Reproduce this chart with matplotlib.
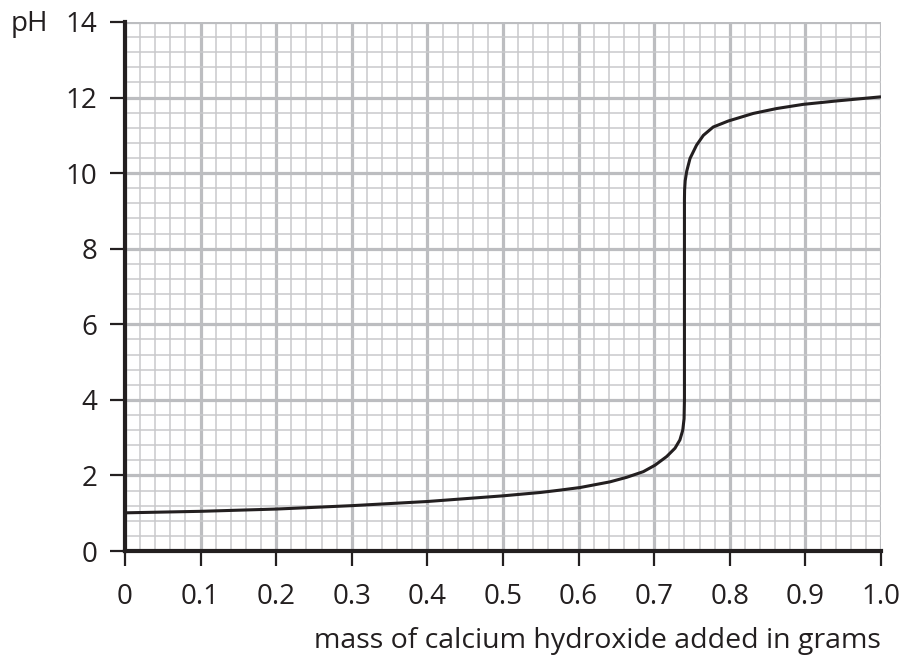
import matplotlib
matplotlib.use("Agg")
import matplotlib.pyplot as plt
import numpy as np

# Data
mass = [0.0, 0.1, 0.2, 0.3, 0.4, 0.5, 0.55, 0.575, 0.602, 0.6415, 0.6636, 0.6856, 0.701, 0.7165, 0.7275,
        0.734, 0.7378, 0.7395, 0.7400, 0.7400, 0.7402, 0.7410, 0.7430, 0.7474, 0.756, 0.765, 0.778, 0.798,
        0.831, 0.862, 0.897, 0.941, 1.0]
ph = [1.01, 1.05, 1.11, 1.20, 1.31, 1.46, 1.55, 1.61, 1.68, 1.83, 1.95, 2.10, 2.27, 2.50, 2.72,
      2.94, 3.20, 3.50, 4.0, 9.3, 9.55, 9.80, 10.05, 10.39, 10.74, 11.0, 11.22, 11.38,
      11.58, 11.71, 11.82, 11.91, 12.02]
x_ticks = [0, 0.1, 0.2, 0.3, 0.4, 0.5, 0.6, 0.7, 0.8, 0.9, 1.0]
x_labels = ["0", "0.1", "0.2", "0.3", "0.4", "0.5", "0.6", "0.7", "0.8", "0.9", "1.0"]
y_ticks = [0, 2, 4, 6, 8, 10, 12, 14]
y_labels = ["0", "2", "4", "6", "8", "10", "12", "14"]

plt.rcParams['font.family'] = ['Open Sans', 'DejaVu Sans']

fig = plt.figure(figsize=(9.02, 6.57), dpi=100)
ax = fig.add_axes([125/902, 1-551/657, (881-125)/902, (551-22)/657])

ax.set_xlim(0, 1.0)
ax.set_ylim(0, 14)

minor_x = np.arange(0, 1.0001, 0.02)
minor_y = np.arange(0, 14.001, 0.4)
ax.set_xticks(minor_x, minor=True)
ax.set_yticks(minor_y, minor=True)
ax.set_xticks(x_ticks)
ax.set_xticklabels(x_labels)
ax.set_yticks(y_ticks)
ax.set_yticklabels(y_labels)

ax.grid(which='minor', color='#c9c9cb', linewidth=1.1, zorder=0)
ax.grid(which='major', color='#bcbdc0', linewidth=2.3, zorder=0)
ax.set_axisbelow(True)
ax.tick_params(which='minor', length=0)
ax.tick_params(which='major', direction='out', length=11, width=1.6, color='#231f20',
               labelsize=20, labelcolor='#231f20')
ax.tick_params(axis='x', pad=12)
ax.tick_params(axis='y', pad=9)

for s in ['top', 'right']:
    ax.spines[s].set_visible(False)
for s in ['left', 'bottom']:
    ax.spines[s].set_linewidth(3)
    ax.spines[s].set_color('#231f20')
    ax.spines[s].set_zorder(5)

ax.plot(mass, ph, color='#231f20', linewidth=2.2, solid_capstyle='butt',
        solid_joinstyle='round', zorder=4)

fig.text(11/902, 1-24/657, "pH", fontsize=20, color='#231f20', ha='left', va='center')
fig.text(881/902, 1-641/657, "mass of calcium hydroxide added in grams", fontsize=20.5,
         color='#231f20', ha='right', va='center')

fig.savefig("out.png", dpi=100)
